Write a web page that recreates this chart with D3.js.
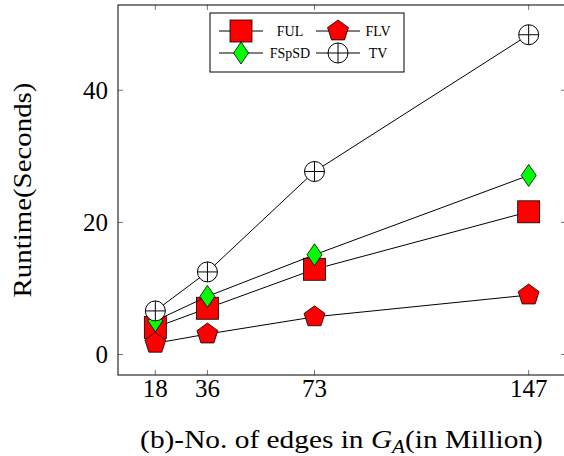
<!DOCTYPE html>
<html><head><meta charset="utf-8">
<script src="https://cdn.jsdelivr.net/npm/d3@7"></script>
<style>body{margin:0;background:#fff}svg{display:block}text{font-family:"Liberation Serif","Times New Roman",serif;fill:#000}</style>
</head><body>
<script>
const categories = [18, 36, 73, 147];
const xTicks = [18, 36, 73, 147];
const yTicks = [0, 20, 40];
const seriesNames = ["FUL", "FLV", "FSpSD", "TV"];
const FUL = [4.1, 7.0, 12.9, 21.6];
const FLV = [1.7, 3.1, 5.7, 9.0];
const FSpSD = [5.1, 8.8, 15.1, 27.1];
const TV = [6.6, 12.5, 27.7, 48.4];
const xDomain = [5.1, 159.9];
const yDomain = [-3.1, 52.9];
const xLabel = "(b)-No. of edges in ";
const yLabel = "Runtime(Seconds)";

const W = 564, H = 456;
const L = 118, R = 566, T = 5, B = 375;
const svg = d3.select("body").append("svg").attr("width", W).attr("height", H);
const x = d3.scaleLinear().domain(xDomain).range([L, R]);
const y = d3.scaleLinear().domain(yDomain).range([B, T]);

const series = [
  {name: "FUL", values: FUL, shape: "square", fill: "#ff0000"},
  {name: "FLV", values: FLV, shape: "pentagon", fill: "#ff0000"},
  {name: "FSpSD", values: FSpSD, shape: "diamond", fill: "#00ff00"},
  {name: "TV", values: TV, shape: "oplus", fill: "#ffffff"}
];

function drawMarker(g, shape, fill, cx, cy) {
  const st = "#000";
  if (shape === "square") {
    g.append("rect").attr("x", cx - 11).attr("y", cy - 11).attr("width", 22).attr("height", 22)
      .attr("fill", fill).attr("stroke", st).attr("stroke-width", 0.8);
  } else if (shape === "pentagon") {
    const r = 11;
    const pts = d3.range(5).map(i => {
      const a = -Math.PI / 2 + i * 2 * Math.PI / 5;
      return [cx + r * Math.cos(a), cy + r * Math.sin(a)];
    });
    g.append("polygon").attr("points", pts.map(p => p.join(",")).join(" "))
      .attr("fill", fill).attr("stroke", st).attr("stroke-width", 0.8);
  } else if (shape === "diamond") {
    const pts = [[cx, cy - 11], [cx + 7.5, cy], [cx, cy + 11], [cx - 7.5, cy]];
    g.append("polygon").attr("points", pts.map(p => p.join(",")).join(" "))
      .attr("fill", fill).attr("stroke", st).attr("stroke-width", 0.8);
  } else {
    const r = 10;
    g.append("circle").attr("cx", cx).attr("cy", cy).attr("r", r)
      .attr("fill", fill).attr("stroke", st).attr("stroke-width", 1);
    g.append("line").attr("x1", cx - r).attr("x2", cx + r).attr("y1", cy).attr("y2", cy).attr("stroke", st).attr("stroke-width", 1);
    g.append("line").attr("x1", cx).attr("x2", cx).attr("y1", cy - r).attr("y2", cy + r).attr("stroke", st).attr("stroke-width", 1);
  }
}

// ticks (inside, mirrored)
const tk = svg.append("g").attr("stroke", "#777").attr("stroke-width", 1);
xTicks.forEach(v => {
  tk.append("line").attr("x1", x(v)).attr("x2", x(v)).attr("y1", B).attr("y2", B - 5);
  tk.append("line").attr("x1", x(v)).attr("x2", x(v)).attr("y1", T).attr("y2", T + 5);
});
yTicks.forEach(v => {
  tk.append("line").attr("x1", L).attr("x2", L + 5).attr("y1", y(v)).attr("y2", y(v));
  tk.append("line").attr("x1", R).attr("x2", R - 5).attr("y1", y(v)).attr("y2", y(v));
});

// frame
svg.append("rect").attr("x", L).attr("y", T).attr("width", R - L).attr("height", B - T)
  .attr("fill", "none").attr("stroke", "#000").attr("stroke-width", 1);

// tick labels
svg.append("g").selectAll("text").data(xTicks).join("text")
  .attr("x", d => x(d)).attr("y", 397).attr("text-anchor", "middle").attr("font-size", 25).text(d => d);
svg.append("g").selectAll("text").data(yTicks).join("text")
  .attr("x", 108).attr("y", d => y(d) + 8.5).attr("text-anchor", "end").attr("font-size", 25).text(d => d);

// axis labels (stretched horizontally to match the wider original typeface)
const xg = svg.append("g");
const xl = xg.append("text").attr("x", 0).attr("y", 0).attr("text-anchor", "middle").attr("font-size", 25);
xl.append("tspan").text(xLabel);
xl.append("tspan").attr("font-style", "italic").text("G");
xl.append("tspan").attr("font-style", "italic").attr("font-size", 18).attr("dy", 5).text("A");
xl.append("tspan").attr("dy", -5).text("(in Million)");
const xw = xl.node().getBBox().width;
xg.attr("transform", `translate(${(140 + 543) / 2},448) scale(${403 / xw},1)`);

const yg = svg.append("g");
const yl = yg.append("text").attr("x", 0).attr("y", 0).attr("text-anchor", "middle").attr("font-size", 25).text(yLabel);
const yw = yl.node().getBBox().width;
yg.attr("transform", `translate(31,${(T + B) / 2}) rotate(-90) scale(${215 / yw},1)`);

// series
const line = d3.line().x((d, i) => x(categories[i])).y(d => y(d));
series.forEach(s => {
  const g = svg.append("g");
  g.append("path").attr("d", line(s.values)).attr("fill", "none").attr("stroke", "#000").attr("stroke-width", 1);
  s.values.forEach((v, i) => drawMarker(g, s.shape, s.fill, x(categories[i]), y(v)));
});

// legend
const lg = svg.append("g");
lg.append("rect").attr("x", 210).attr("y", 13).attr("width", 194).attr("height", 59)
  .attr("fill", "#fff").attr("stroke", "#000").attr("stroke-width", 1);
const cols = [{lx0: 219, lx1: 263, tx: 290}, {lx0: 316, lx1: 360, tx: 378}];
const rows = [31, 53];
series.forEach((s, i) => {
  const c = cols[i % 2], r = rows[Math.floor(i / 2)];
  lg.append("line").attr("x1", c.lx0).attr("x2", c.lx1).attr("y1", r).attr("y2", r).attr("stroke", "#000").attr("stroke-width", 1);
  drawMarker(lg, s.shape, s.fill, (c.lx0 + c.lx1) / 2, r);
  lg.append("text").attr("x", c.tx).attr("y", r + 5).attr("text-anchor", "middle").attr("font-size", 14).text(seriesNames[i]);
});
</script>
</body></html>
